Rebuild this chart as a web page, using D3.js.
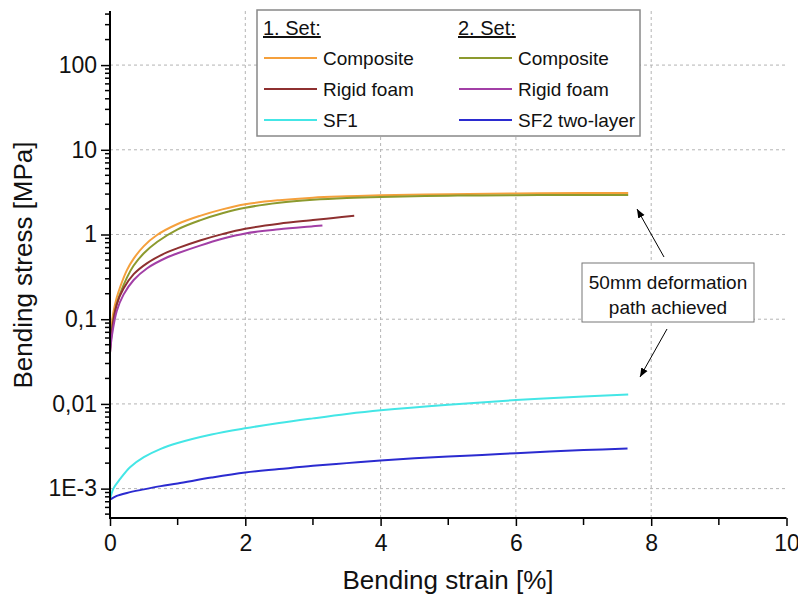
<!DOCTYPE html>
<html><head><meta charset="utf-8">
<script src="https://cdn.jsdelivr.net/npm/d3@7"></script>
<style>body{margin:0;background:#fff}svg{display:block}text{font-family:"Liberation Sans",Arial,sans-serif;fill:#111}</style>
</head><body><svg id="c" width="798" height="597"></svg>
<script>
// ---- data ----
const xTicks = [0, 2, 4, 6, 8, 10];
const yTicks = [1e-3, 0.01, 0.1, 1, 10, 100];
const yTickLabels = ["1E-3", "0,01", "0,1", "1", "10", "100"];

const composite1 = [[0,0.05],[0.02,0.08],[0.05,0.12],[0.1,0.18],[0.15,0.24],[0.25,0.38],[0.35,0.52],[0.5,0.73],[0.69,0.98],[1.0,1.33],[1.33,1.66],[1.66,1.98],[2,2.28],[2.5,2.54],[3,2.72],[3.5,2.82],[4,2.9],[5,2.99],[6,3.05],[7,3.08],[7.66,3.1]];
const composite2 = [[0,0.045],[0.02,0.07],[0.05,0.1],[0.1,0.15],[0.15,0.2],[0.25,0.31],[0.35,0.43],[0.5,0.6],[0.7,0.82],[1.0,1.15],[1.33,1.47],[1.66,1.78],[2,2.07],[2.5,2.37],[3,2.57],[3.5,2.7],[4,2.78],[5,2.87],[6,2.91],[7,2.93],[7.66,2.93]];
const rigid1 = [[0,0.04],[0.03,0.075],[0.1,0.15],[0.2,0.23],[0.35,0.34],[0.55,0.46],[0.84,0.615],[1.0,0.69],[1.33,0.85],[1.66,1.01],[2,1.17],[2.5,1.34],[3,1.48],[3.3,1.57],[3.61,1.66]];
const rigid2 = [[0,0.04],[0.03,0.065],[0.1,0.125],[0.2,0.195],[0.35,0.29],[0.55,0.4],[0.84,0.535],[1.0,0.6],[1.33,0.74],[1.66,0.89],[2,1.03],[2.5,1.15],[3,1.25],[3.14,1.28]];
const sf1 = [[0,7.4e-4],[0.05,1.0e-3],[0.15,1.3e-3],[0.3,1.8e-3],[0.5,2.35e-3],[0.75,2.95e-3],[1.0,3.45e-3],[1.5,4.35e-3],[2,5.15e-3],[2.5,5.95e-3],[3,6.75e-3],[3.5,7.6e-3],[4,8.4e-3],[5,9.8e-3],[6,1.11e-2],[7,1.22e-2],[7.66,1.295e-2]];
const sf2 = [[0,7.4e-4],[0.1,8.2e-4],[0.25,8.9e-4],[0.5,9.8e-4],[0.75,1.07e-3],[1,1.15e-3],[1.5,1.35e-3],[2,1.55e-3],[2.5,1.7e-3],[3,1.86e-3],[3.5,2.0e-3],[4,2.15e-3],[4.5,2.28e-3],[5,2.4e-3],[5.5,2.5e-3],[6,2.62e-3],[6.5,2.74e-3],[7,2.85e-3],[7.65,2.97e-3]];

const seriesNames = ["Composite","Rigid foam","SF1","Composite","Rigid foam","SF2 two-layer"];
const seriesColors = ["#F5A03C","#8E3030","#44E6E6","#8C9A2E","#A23FA6","#2B2BD0"];
const seriesData = [composite1, rigid1, sf1, composite2, rigid2, sf2];

// ---- layout ----
const svg = d3.select("#c");
const L = 110, R = 786.5, T = 11, B = 518;
const x = d3.scaleLinear().domain([0, 10]).range([L, R]);
const y = d3.scaleLog().domain([4.5e-4, 435]).range([B, T]);

// grid
const g = svg.append("g");
g.selectAll(".vg").data(xTicks.filter(d => d > 0 && d < 10)).join("line")
  .attr("x1", d => x(d)).attr("x2", d => x(d)).attr("y1", T).attr("y2", B)
  .attr("stroke", "#b4b4b4").attr("stroke-dasharray", "3,3");
g.selectAll(".hg").data(yTicks).join("line")
  .attr("x1", L).attr("x2", R).attr("y1", d => y(d)).attr("y2", d => y(d))
  .attr("stroke", "#b4b4b4").attr("stroke-dasharray", "3,3");

// curves
const line = d3.line().x(d => x(d[0])).y(d => y(d[1])).curve(d3.curveCatmullRom.alpha(0.5));
[0,3,1,4,2,5].forEach(i => {
  svg.append("path").attr("d", line(seriesData[i])).attr("fill", "none")
    .attr("stroke", seriesColors[i]).attr("stroke-width", 2);
});

// axes
const yAxis = d3.axisLeft(y).tickValues(yTicks).tickFormat((d, i) => yTickLabels[i]).tickSize(9).tickPadding(4);
const ya = svg.append("g").attr("transform", `translate(${L},0)`).call(yAxis);
ya.select(".domain").remove();
ya.selectAll("text").style("font-size", "23px").attr("fill", "#111");
// minor y ticks
const minors = [];
for (let e = -4; e <= 2; e++) for (let m = 2; m <= 9; m++) { const v = m * Math.pow(10, e); if (v >= 4.5e-4 && v <= 435) minors.push(v); }
svg.append("g").selectAll("line").data(minors).join("line")
  .attr("x1", L - 5).attr("x2", L).attr("y1", d => y(d)).attr("y2", d => y(d)).attr("stroke", "#000").attr("stroke-width", 1.5);
ya.selectAll(".tick line").attr("stroke-width", 1.5);

const xAxis = d3.axisBottom(x).tickValues(xTicks).tickSize(8).tickPadding(9);
const xa = svg.append("g").attr("transform", `translate(0,${B})`).call(xAxis);
xa.select(".domain").remove();
xa.selectAll("text").style("font-size", "23px").attr("fill", "#111");
xa.selectAll(".tick line").attr("stroke-width", 1.5);
svg.append("g").selectAll("line").data([1,3,5,7,9]).join("line")
  .attr("x1", d => x(d)).attr("x2", d => x(d)).attr("y1", B).attr("y2", B + 7).attr("stroke", "#000").attr("stroke-width", 1.5);

svg.append("line").attr("x1", L).attr("x2", L).attr("y1", T).attr("y2", B + 1).attr("stroke", "#000").attr("stroke-width", 2);
svg.append("line").attr("x1", L - 1).attr("x2", R).attr("y1", B).attr("y2", B).attr("stroke", "#000").attr("stroke-width", 2);

// axis titles
svg.append("text").attr("x", 448).attr("y", 589).attr("text-anchor", "middle").style("font-size", "26px").text("Bending strain [%]");
svg.append("text").attr("transform", "translate(32,265) rotate(-90)").attr("text-anchor", "middle").style("font-size", "26px").text("Bending stress [MPa]");

// legend
const lg = svg.append("g");
lg.append("rect").attr("x", 257).attr("y", 10).attr("width", 383).attr("height", 126).attr("fill", "#fff").attr("stroke", "#888").attr("stroke-width", 1.5);
const cols = [263, 458];
["1. Set:", "2. Set:"].forEach((t, c) => {
  lg.append("text").attr("x", cols[c]).attr("y", 35).style("font-size", "20px").style("text-decoration", "underline").text(t);
});
seriesNames.forEach((n, i) => {
  const c = Math.floor(i / 3), r = i % 3;
  const yy = 58 + r * 31;
  lg.append("line").attr("x1", cols[c] + 1).attr("x2", cols[c] + 54).attr("y1", yy).attr("y2", yy).attr("stroke", seriesColors[i]).attr("stroke-width", 2);
  lg.append("text").attr("x", cols[c] + 60).attr("y", yy + 7).style("font-size", "19px").text(n);
});

// annotation
svg.append("defs").append("marker").attr("id", "ah").attr("viewBox", "0 0 10 10").attr("refX", 10).attr("refY", 5)
  .attr("markerWidth", 9).attr("markerHeight", 9).attr("orient", "auto-start-reverse")
  .append("path").attr("d", "M0,1 L10,5 L0,9 Z").attr("fill", "#000");
svg.append("line").attr("x1", 664).attr("y1", 257).attr("x2", 637).attr("y2", 209).attr("stroke", "#000").attr("stroke-width", 1).attr("marker-end", "url(#ah)");
svg.append("line").attr("x1", 667).attr("y1", 329).attr("x2", 640).attr("y2", 377).attr("stroke", "#000").attr("stroke-width", 1).attr("marker-end", "url(#ah)");
svg.append("rect").attr("x", 582).attr("y", 263).attr("width", 172).attr("height", 59).attr("fill", "#fff").attr("stroke", "#777").attr("stroke-width", 1);
svg.append("text").attr("x", 668).attr("y", 289).attr("text-anchor", "middle").style("font-size", "19px").text("50mm deformation");
svg.append("text").attr("x", 668).attr("y", 314).attr("text-anchor", "middle").style("font-size", "19px").text("path achieved");
</script></body></html>
